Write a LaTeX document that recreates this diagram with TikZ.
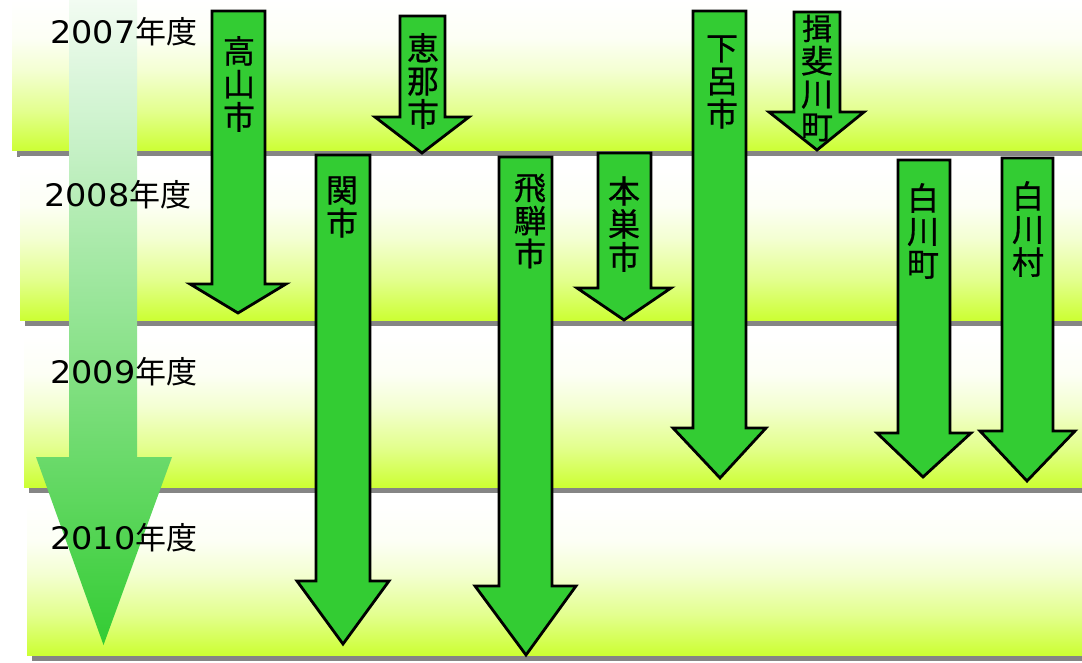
\documentclass[tikz,border=0pt]{standalone}
\usepackage{fontspec}
\setmainfont{Noto Sans CJK JP}[FakeBold=0.7]
\newfontfamily\digfont[FakeStretch=1.08]{DejaVu Sans}
\newfontfamily\yearcjk{Noto Sans CJK JP}
\definecolor{bandg}{HTML}{CCFF33}
\definecolor{arrg}{HTML}{33CC33}
\definecolor{shad}{HTML}{858585}
\colorlet{bandA}{bandg!55!white}
\colorlet{bandB}{bandg!22!white}
\colorlet{bandC}{bandg!5!white}
\pgfdeclareverticalshading{bandshade}{100bp}{color(0bp)=(bandg); color(25bp)=(bandg); color(37.5bp)=(bandA); color(50bp)=(bandB); color(60bp)=(bandC); color(72bp)=(white); color(100bp)=(white)}
\newcommand\cityarrow[8]{%
  \draw[cityarr] (#1,#3) -- (#2,#3) -- (#2,#4) -- (#6,#4) -- (#7,#8) -- (#5,#4) -- (#1,#4) -- cycle;}
\newcommand\yearband[3]{%
  \fill[shad] (#1+5,#2+6) rectangle (1100,#3+6);
  \shade[shading=bandshade] (#1,#2) rectangle (1095,#3);}
\begin{document}
\begin{tikzpicture}[x=1pt,y=-1pt,
  cityarr/.style={draw=black, fill=arrg, line width=2.8pt, line join=miter},
  citytxt/.style={align=center, inner sep=0pt, font=\fontsize{32}{33}\selectfont},
  yeartxt/.style={anchor=base west, inner sep=0pt, font=\fontsize{31}{34}\yearcjk}]
\useasboundingbox (0,0) rectangle (1082,663);
\clip (0,0) rectangle (1082,663);
% bands
\yearband{12}{-10}{151}
\yearband{20}{157}{320}
\yearband{24}{326}{487}
\yearband{27}{493}{655}
% big time arrow
\shade[top color=arrg!6!white, bottom color=arrg] (69,-3) -- (137,-3) -- (137,457) -- (172,457) -- (103.5,645) -- (36,457) -- (69,457) -- cycle;
% year labels
\node[yeartxt] (y2007) at (50,44) {{\digfont 2007}年度};
\node[yeartxt] (y2008) at (44,207) {{\digfont 2008}年度};
\node[yeartxt] (y2009) at (50,383) {{\digfont 2009}年度};
\node[yeartxt] (y2010) at (50,549) {{\digfont 2010}年度};
% city arrows
\cityarrow{212}{265}{11}{284}{190}{286}{238}{313}
\node[citytxt] (takayama) at (239,84) {高\\山\\市};
\cityarrow{400}{445}{16}{117}{375}{469}{422}{153}
\node[citytxt] (ena) at (423,81) {恵\\那\\市};
\cityarrow{316}{370}{155}{581}{297}{389}{343}{644}
\node[citytxt] (seki) at (342,207) {関\\市};
\cityarrow{499}{552}{157}{586}{475}{576}{526}{655}
\node[citytxt] (hida) at (530,221) {飛\\騨\\市};
\cityarrow{598}{651}{153}{288}{577}{671}{624}{320}
\node[citytxt] (motosu) at (624,224) {本\\巣\\市};
\cityarrow{693}{746}{11}{428}{673}{766}{720}{478}
\node[citytxt] (gero) at (722,82) {下\\呂\\市};
\cityarrow{794}{840}{12}{112}{769}{864}{817}{150}
\node[citytxt] (ibigawa) at (817,78) {\fontsize{30}{30.5}\selectfont 揖\\斐\\川\\町};
\cityarrow{898}{950}{160}{433}{877}{971}{923}{477}
\node[citytxt] (shirakawacho) at (923,231) {白\\川\\町};
\cityarrow{1002}{1053}{158}{431}{980}{1075}{1027}{481}
\node[citytxt] (shirakawamura) at (1028,229) {白\\川\\村};
\end{tikzpicture}
\end{document}
